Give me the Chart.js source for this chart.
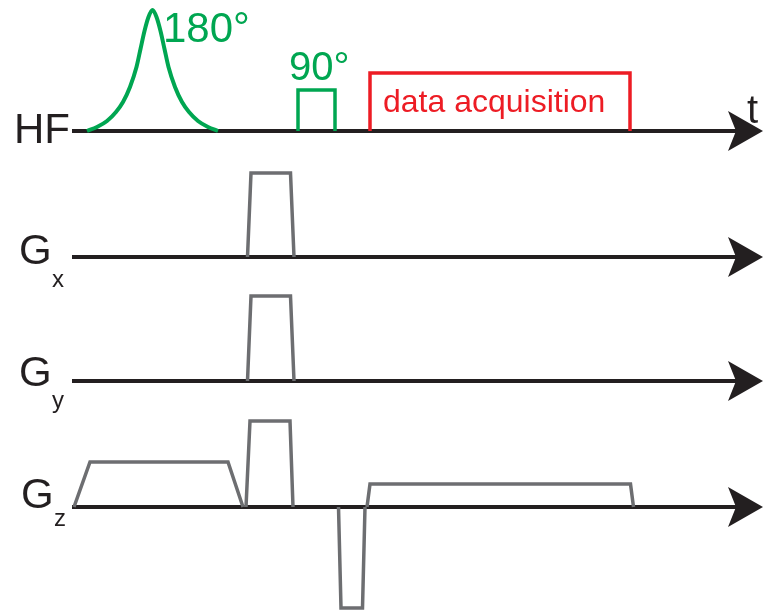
<!DOCTYPE html>
<html>
<head>
<meta charset="utf-8">
<title>Pulse sequence</title>
<style>
  html, body { margin: 0; padding: 0; background: #ffffff; overflow: hidden; }
  canvas { display: block; }
</style>
<script src="https://cdn.jsdelivr.net/npm/chart.js@4"></script>
</head>
<body>
<canvas id="seq" width="763" height="612"></canvas>
<script>
// ---- channels (top to bottom) ----
const channelNames = ['HF', 'G', 'G', 'G'];
const channelSubs  = ['', 'x', 'y', 'z'];

// ---- waveforms: [time, amplitude] pairs; null amplitude breaks the trace ----
// 180° shaped RF pulse
const rf180Pulse = [
  [87, 0], [97, 4], [107, 10], [116, 19], [123, 29], [130, 44], [136.5, 64],
  [140.5, 82], [144.5, 100], [148.5, 114], [152.5, 121], [156.5, 114],
  [160.5, 100], [164.5, 82], [168.5, 64], [175, 44], [182, 29], [189, 19],
  [198, 10], [208, 4], [218, 0]
];
// 90° hard RF pulse
const rf90Pulse = [[298, 0], [298, 41], [335, 41], [335, 0]];
// acquisition window
const acqWindow = [[370, 0], [370, 58], [630, 58], [630, 0]];
// gradient lobes
const gxWave = [[247.5, 0], [251, 84], [290.5, 84], [294, 0]];
const gyWave = [[247.5, 0], [251, 85], [290.5, 85], [294, 0]];
const gzWave = [
  [74, 0], [90, 45], [228, 45], [243, 0], [244.5, null],
  [246, 0], [250, 86], [290, 86], [293, 0], [315, null],
  [338.5, 0], [341, -101], [362.5, -101], [365, 0], [366, null],
  [367, 0], [370, 23], [630.5, 23], [633.5, 0]
];

// ---- text ----
const rf180Label = '180°';
const rf90Label = '90°';
const acqLabel = 'data acquisition';
const timeLabel = 't';

// ---- layout ----
const rowBase = [131, 257, 381, 507];        // baseline of each channel (y units)
const axisFrom = 72, axisTo = 737;            // time axis line extent
const arrowBack = 728, arrowTip = 763, arrowNotch = 736, arrowHalf = 20;

const GREEN = '#00a651', RED = '#ed1c24', GREY = '#6d6e71', BLACK = '#231f20';
const FONT = '"Liberation Sans", Arial, Helvetica, sans-serif';

function toPoints(pairs, base) {
  return pairs.map(([t, a]) => ({ x: t, y: a === null ? null : base - a }));
}

const datasets = [];

// time axes with arrowheads
rowBase.forEach((b) => {
  datasets.push({
    data: [{ x: axisFrom, y: b }, { x: axisTo, y: b }],
    borderColor: BLACK, borderWidth: 4, borderCapStyle: 'butt', order: 2
  });
  datasets.push({
    data: [
      { x: arrowBack, y: b - arrowHalf }, { x: arrowTip, y: b },
      { x: arrowBack, y: b + arrowHalf }, { x: arrowNotch, y: b },
      { x: arrowBack, y: b - arrowHalf }
    ],
    borderWidth: 0, borderColor: BLACK, backgroundColor: BLACK, fill: 'shape', order: 2
  });
});

// waveforms (drawn above the axes)
const traces = [
  { pairs: rf180Pulse, row: 0, color: GREEN, width: 4, smooth: true },
  { pairs: rf90Pulse,  row: 0, color: GREEN, width: 3.5 },
  { pairs: acqWindow,  row: 0, color: RED,   width: 3.5 },
  { pairs: gxWave,     row: 1, color: GREY,  width: 3.5 },
  { pairs: gyWave,     row: 2, color: GREY,  width: 3.5 },
  { pairs: gzWave,     row: 3, color: GREY,  width: 3.5 }
];
traces.forEach((tr) => {
  datasets.push({
    data: toPoints(tr.pairs, rowBase[tr.row]),
    borderColor: tr.color, borderWidth: tr.width, borderJoinStyle: 'miter',
    borderCapStyle: 'butt', spanGaps: false, fill: false,
    cubicInterpolationMode: tr.smooth ? 'monotone' : 'default',
    order: 1
  });
});

// labels placed in chart units
const labelPlugin = {
  id: 'seqLabels',
  afterDatasetsDraw(chart) {
    const ctx = chart.ctx;
    const xs = chart.scales.x, ys = chart.scales.y;
    const put = (text, t, v, size, color) => {
      ctx.font = size + 'px ' + FONT;
      ctx.fillStyle = color;
      ctx.textAlign = 'left';
      ctx.textBaseline = 'alphabetic';
      ctx.fillText(text, xs.getPixelForValue(t), ys.getPixelForValue(v));
    };
    ctx.save();
    // channel names
    const nameX = [14, 19, 19, 21];
    const nameDy = [12, 7, 5, 1];
    const subPos = [null, [52, 287], [52, 408], [54, 526]];
    channelNames.forEach((n, i) => {
      put(n, nameX[i], rowBase[i] + nameDy[i], 42, BLACK);
      if (channelSubs[i]) put(channelSubs[i], subPos[i][0], subPos[i][1], 24, BLACK);
    });
    put(timeLabel, 747, 123, 40, BLACK);
    put(rf180Label, 163, 42, 42, GREEN);
    put(rf90Label, 289, 79.5, 40, GREEN);
    put(acqLabel, 383, 112, 32, RED);
    ctx.restore();
  }
};

new Chart(document.getElementById('seq'), {
  type: 'line',
  data: { datasets },
  options: {
    responsive: false,
    animation: false,
    events: [],
    layout: { padding: 0 },
    elements: { point: { radius: 0 }, line: { tension: 0 } },
    plugins: { legend: { display: false }, tooltip: { enabled: false } },
    scales: {
      x: { type: 'linear', min: 0, max: 763, display: false },
      y: { type: 'linear', min: 0, max: 612, reverse: true, display: false }
    }
  },
  plugins: [labelPlugin]
});
</script>
</body>
</html>
